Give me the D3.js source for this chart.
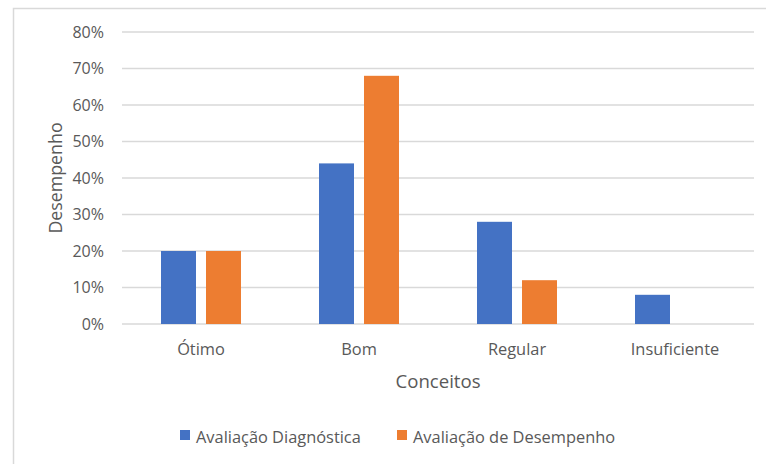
<!DOCTYPE html>
<html>
<head>
<meta charset="utf-8">
<script src="https://cdn.jsdelivr.net/npm/d3@7"></script>
<style>
  html, body { margin: 0; padding: 0; background: #ffffff; }
  svg { display: block; }
  text { font-family: "Open Sans", "Noto Sans", sans-serif; fill: #595959; }
</style>
</head>
<body>
<svg id="chart" width="766" height="464"></svg>
<script>
// Categories (conceitos) and the share of students in each, per assessment
const categories = ["Ótimo", "Bom", "Regular", "Insuficiente"];
const diagnostica = [0.20, 0.44, 0.28, 0.08];
const desempenho = [0.20, 0.68, 0.12, 0.00];
const seriesNames = ["Avaliação Diagnóstica", "Avaliação de Desempenho"];
const seriesColors = ["#4472C4", "#ED7D31"];
const yTicks = [0, 0.1, 0.2, 0.3, 0.4, 0.5, 0.6, 0.7, 0.8];

const svg = d3.select("#chart");

// Outer chart frame
svg.append("rect")
  .attr("x", 13.5).attr("y", 8.5)
  .attr("width", 780).attr("height", 480)
  .attr("fill", "none")
  .attr("stroke", "#d9d9d9")
  .attr("stroke-width", 1.5);

const plot = { left: 122, right: 754, top: 32, bottom: 324 };
const groupWidth = 80;

const x = d3.scaleBand()
  .domain(categories)
  .range([plot.left, plot.right]);

const inner = d3.scaleBand()
  .domain(seriesNames)
  .range([0, groupWidth])
  .paddingInner(2 / 9);

const y = d3.scaleLinear()
  .domain([0, 0.8])
  .range([plot.bottom, plot.top]);

// Horizontal gridlines
svg.append("g")
  .selectAll("line")
  .data(yTicks)
  .join("line")
  .attr("x1", plot.left).attr("x2", plot.right)
  .attr("y1", d => y(d)).attr("y2", d => y(d))
  .attr("stroke", "#d9d9d9")
  .attr("stroke-width", 1.5);

// Y axis labels
const yAxis = svg.append("g")
  .attr("transform", `translate(${plot.left - 18},0)`)
  .call(d3.axisLeft(y).tickValues(yTicks).tickFormat(d3.format(".0%")).tickSize(0).tickPadding(0));
yAxis.select(".domain").remove();
yAxis.selectAll("text")
  .attr("font-size", 16)
  .attr("fill", "#595959")
  .style("font-family", '"Open Sans", "Noto Sans", sans-serif');

// Bars
const series = [diagnostica, desempenho];
series.forEach((vals, si) => {
  svg.append("g")
    .selectAll("rect")
    .data(categories.map((c, i) => ({ c, v: vals[i] })))
    .join("rect")
    .attr("x", d => x(d.c) + (x.bandwidth() - groupWidth) / 2 + inner(seriesNames[si]))
    .attr("y", d => y(d.v))
    .attr("width", inner.bandwidth())
    .attr("height", d => y(0) - y(d.v))
    .attr("fill", seriesColors[si]);
});

// X axis labels
const xAxis = svg.append("g")
  .attr("transform", `translate(0,${plot.bottom + 19})`)
  .call(d3.axisBottom(x).tickSize(0).tickPadding(0));
xAxis.select(".domain").remove();
xAxis.selectAll("text")
  .attr("font-size", 16.4)
  .attr("fill", "#595959")
  .style("font-family", '"Open Sans", "Noto Sans", sans-serif');

// Axis titles
svg.append("text")
  .attr("x", (plot.left + plot.right) / 2)
  .attr("y", 388)
  .attr("text-anchor", "middle")
  .attr("font-size", 18.6)
  .text("Conceitos");

svg.append("text")
  .attr("transform", "translate(62,178) rotate(-90)")
  .attr("text-anchor", "middle")
  .attr("font-size", 17.8)
  .text("Desempenho");

// Legend
const legendItems = [
  { name: seriesNames[0], color: seriesColors[0], x: 180 },
  { name: seriesNames[1], color: seriesColors[1], x: 397 }
];
const legend = svg.append("g");
legendItems.forEach(item => {
  legend.append("rect")
    .attr("x", item.x).attr("y", 430)
    .attr("width", 10).attr("height", 10)
    .attr("fill", item.color);
  legend.append("text")
    .attr("x", item.x + 16).attr("y", 443)
    .attr("font-size", 16.4)
    .text(item.name);
});
</script>
</body>
</html>
